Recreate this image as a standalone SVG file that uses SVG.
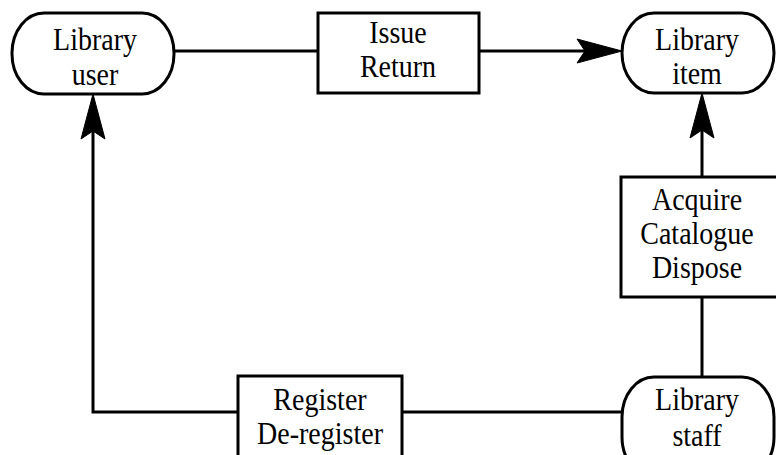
<svg xmlns="http://www.w3.org/2000/svg" width="776" height="455" viewBox="0 0 776 455">
  <style>
    .shape { fill: #fff; stroke: #000; stroke-width: 3; }
    .conn { fill: none; stroke: #000; stroke-width: 3; }
    text { font-family: "Liberation Serif", "Times New Roman", serif; font-size: 28px; fill: #000; text-anchor: middle; }
  </style>
  <defs>
    <marker id="arrow" markerUnits="userSpaceOnUse" markerWidth="50" markerHeight="30" viewBox="-2 -14 50 28" refX="8" refY="0" orient="auto">
      <path d="M0,-12 L45,0 L0,12 L8,0 Z" fill="#000" stroke="#000" stroke-width="1" stroke-linejoin="round"/>
    </marker>
  </defs>

  <rect width="776" height="455" fill="#fff"/>

  <g id="connectors">
    <line class="conn" x1="174" y1="51" x2="318" y2="51"/>
    <line class="conn" x1="479" y1="51" x2="585" y2="51" marker-end="url(#arrow)"/>
    <line class="conn" x1="702" y1="177" x2="702" y2="130" marker-end="url(#arrow)"/>
    <line class="conn" x1="702" y1="377" x2="702" y2="297"/>
    <line class="conn" x1="622" y1="412" x2="402" y2="412"/>
    <polyline class="conn" points="238,412 93,412 93,131" marker-end="url(#arrow)"/>
  </g>

  <!-- labels are set in a slightly tall serif: scaled 1.1 vertically about the baseline -->
  <g id="library-user">
    <rect class="shape" x="12" y="13" width="162" height="81" rx="32" ry="40"/>
    <text transform="translate(95,50) scale(1,1.1)">Library</text>
    <text transform="translate(95,85) scale(1,1.1)">user</text>
  </g>

  <g id="issue-return">
    <rect class="shape" x="318" y="13" width="161" height="80"/>
    <text transform="translate(398,43) scale(1,1.1)">Issue</text>
    <text transform="translate(398,77) scale(1,1.1)">Return</text>
  </g>

  <g id="library-item">
    <rect class="shape" x="622" y="13" width="152" height="80" rx="32" ry="40"/>
    <text transform="translate(697,50) scale(1,1.1)">Library</text>
    <text transform="translate(697,84) scale(1,1.1)">item</text>
  </g>

  <g id="acquire-catalogue-dispose">
    <rect class="shape" x="621" y="177" width="164" height="120"/>
    <text transform="translate(697,210) scale(1,1.1)">Acquire</text>
    <text transform="translate(697,244) scale(1,1.1)">Catalogue</text>
    <text transform="translate(697,278) scale(1,1.1)">Dispose</text>
  </g>

  <g id="library-staff">
    <rect class="shape" x="622" y="377" width="152" height="100" rx="32" ry="40"/>
    <text transform="translate(697,410) scale(1,1.1)">Library</text>
    <text transform="translate(697,446) scale(1,1.1)">staff</text>
  </g>

  <g id="register-deregister">
    <rect class="shape" x="238" y="376" width="164" height="100"/>
    <text transform="translate(320,410) scale(1,1.1)">Register</text>
    <text transform="translate(320,444) scale(1,1.1)">De-register</text>
  </g>
</svg>
